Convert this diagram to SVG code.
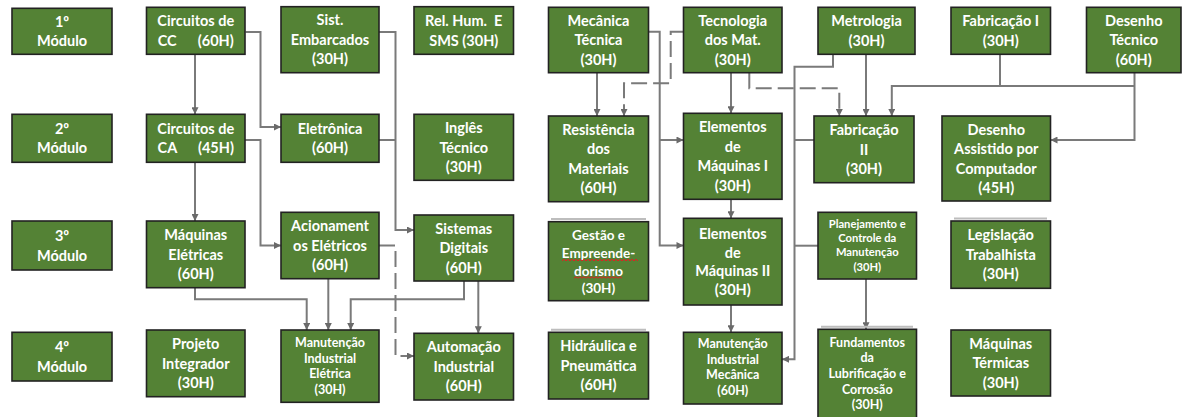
<svg xmlns="http://www.w3.org/2000/svg" width="1183" height="417" viewBox="0 0 1183 417">
<style>
.b{fill:#548235;stroke:#222;stroke-width:1.6}
.sh{stroke:#bdbdbd;stroke-width:2;fill:none}
text{font-family:Lato,"Liberation Sans",sans-serif;font-weight:700;fill:#fff;text-anchor:middle;font-size:14.5px}
.s{font-size:12.5px}
.g{font-size:13.5px}
.t{font-size:11.2px}
.c path{fill:none;stroke:#7a7a7a;stroke-width:2}
.c .d{stroke-dasharray:16 6}
.w{fill:none;stroke:#e02020;stroke-width:1}
</style>
<defs>
<marker id="a" viewBox="0 0 10 10" refX="10" refY="5" markerUnits="userSpaceOnUse" markerWidth="8" markerHeight="7" orient="auto"><path d="M0,0L10,5L0,10z" fill="#6a6a6a"/></marker>
</defs>
<rect width="1183" height="417" fill="#fff"/>
<g class="c" id="connectors">
<path d="M195 54.3V114.3" marker-end="url(#a)"/>
<path d="M245.5 32H260.5V127H281" marker-end="url(#a)"/>
<path d="M379 32H395.5V230H414" marker-end="url(#a)"/>
<path d="M379 140H395.5"/>
<path d="M195 162.3V221" marker-end="url(#a)"/>
<path d="M245 140H260.5V245.5H281" marker-end="url(#a)"/>
<path d="M195 287.7V299.3H306.7V330" marker-end="url(#a)"/>
<path d="M328.3 278.7V330" marker-end="url(#a)"/>
<path d="M464 281V299.3H350.7V330" marker-end="url(#a)"/>
<path d="M478.3 281V333.3" marker-end="url(#a)"/>
<path class="d" d="M379 245.5H395.5V356H414" marker-end="url(#a)"/>
<path d="M597 72.7V116" marker-end="url(#a)"/>
<path class="d" d="M683.5 31.7H670.7V83.3H624V116" marker-end="url(#a)"/>
<path d="M648.5 31.7H659.7V245.5H683.5" marker-end="url(#a)"/>
<path d="M659.7 140H683.5" marker-end="url(#a)"/>
<path d="M731 72.7V113.3" marker-end="url(#a)"/>
<path class="d" d="M749.3 72.7V88.3H839.3V116" marker-end="url(#a)"/>
<path d="M866 54.3V116" marker-end="url(#a)"/>
<path d="M833 54.3V66.7H794.5V359.3H782" marker-end="url(#a)"/>
<path d="M814 140H794.5"/>
<path d="M818 245.7H794.5"/>
<path d="M1000 54.3V86"/>
<path d="M1134.5 72.7V140H1050.5" marker-end="url(#a)"/>
<path d="M1134.5 86H891.8V116" marker-end="url(#a)"/>
<path d="M731 199.3V218.3" marker-end="url(#a)"/>
<path d="M731 305V332.3" marker-end="url(#a)"/>
<path d="M866 279V329.3" marker-end="url(#a)"/>
</g>
<g id="m1"><rect class="b" x="12" y="8.3" width="100" height="46"/><text x="62" y="26.7">1º</text><text x="62" y="46.2">Módulo</text></g>
<g id="cc"><rect class="b" x="146.5" y="7.3" width="98.5" height="47"/><text x="195.75" y="26.2">Circuitos de</text><text x="195.75" y="45.7" xml:space="preserve">CC      (60H)</text></g>
<g id="se"><rect class="b" x="281" y="6.7" width="98" height="66"/><text x="330" y="25.4">Sist.</text><text x="330" y="44.9">Embarcados</text><text x="330" y="64.4">(30H)</text></g>
<g id="rh"><rect class="b" x="414" y="6.7" width="99.5" height="47.6"/><text x="463.75" y="26" xml:space="preserve">Rel. Hum.  E</text><text x="463.75" y="45.5">SMS (30H)</text></g>
<g id="m2"><rect class="b" x="12" y="114.3" width="100" height="48"/><text x="62" y="133.7">2º</text><text x="62" y="153.2">Módulo</text></g>
<g id="ca"><rect class="b" x="146.5" y="114.3" width="98.5" height="48"/><text x="195.75" y="133.7">Circuitos de</text><text x="195.75" y="153.2" xml:space="preserve">CA      (45H)</text></g>
<g id="el"><rect class="b" x="281" y="114.3" width="98" height="48"/><text x="330" y="133.7">Eletrônica</text><text x="330" y="153.2">(60H)</text></g>
<g id="ing"><rect class="b" x="414" y="114.3" width="99.5" height="66"/><text x="463.75" y="133">Inglês</text><text x="463.75" y="152.5">Técnico</text><text x="463.75" y="172">(30H)</text></g>
<g id="m3"><rect class="b" x="12" y="221" width="100" height="49"/><text x="62" y="241">3º</text><text x="62" y="260.5">Módulo</text></g>
<g id="me"><rect class="b" x="146.5" y="221" width="98.5" height="66.7"/><text x="195.75" y="240">Máquinas</text><text x="195.75" y="259.5">Elétricas</text><text x="195.75" y="279">(60H)</text></g>
<g id="ac"><rect class="b" x="281" y="212.3" width="98" height="66.4"/><text x="330" y="231.2">Acionament</text><text x="330" y="250.7">os Elétricos</text><text x="330" y="270.2">(60H)</text></g>
<g id="sd"><rect class="b" x="414" y="215" width="99.5" height="66"/><text x="463.75" y="233.7">Sistemas</text><text x="463.75" y="253.2">Digitais</text><text x="463.75" y="272.7">(60H)</text></g>
<g id="m4"><rect class="b" x="12" y="332.3" width="100" height="48.7"/><text x="62" y="352.1">4º</text><text x="62" y="371.6">Módulo</text></g>
<g id="pi"><rect class="b" x="146.5" y="330" width="98.5" height="66.7"/><text x="195.75" y="349">Projeto</text><text x="195.75" y="368.5">Integrador</text><text x="195.75" y="388">(30H)</text></g>
<g id="mie"><rect class="b" x="281" y="330" width="98" height="72.3"/><text class="s" x="330" y="346.6">Manutenção</text><text class="s" x="330" y="362.5">Industrial</text><text class="s" x="330" y="378.4">Elétrica</text><text class="s" x="330" y="394.3">(30H)</text></g>
<g id="ai"><rect class="b" x="414" y="333.3" width="99.5" height="66.7"/><text x="463.75" y="352.4">Automação</text><text x="463.75" y="371.9">Industrial</text><text x="463.75" y="391.4">(60H)</text></g>
<g id="mt"><rect class="b" x="548.5" y="7.3" width="100" height="65.4"/><text x="598.5" y="25.7">Mecânica</text><text x="598.5" y="45.2">Técnica</text><text x="598.5" y="64.7">(30H)</text></g>
<g id="tm"><rect class="b" x="683.5" y="7.3" width="98.5" height="65.4"/><text x="732.75" y="25.7">Tecnologia</text><text x="732.75" y="45.2">dos Mat.</text><text x="732.75" y="64.7">(30H)</text></g>
<g id="mtr"><rect class="b" x="818" y="7.3" width="97" height="47"/><text x="866.5" y="26.2">Metrologia</text><text x="866.5" y="45.7">(30H)</text></g>
<g id="f1"><rect class="b" x="951" y="7.3" width="99.5" height="47"/><text x="1000.75" y="26.2">Fabricação I</text><text x="1000.75" y="45.7">(30H)</text></g>
<g id="dt"><rect class="b" x="1086.5" y="7.3" width="94.5" height="65.4"/><text x="1133.75" y="25.7">Desenho</text><text x="1133.75" y="45.2">Técnico</text><text x="1133.75" y="64.7">(60H)</text></g>
<g id="rm"><rect class="b" x="548.5" y="116" width="100" height="85.7"/><text x="598.5" y="134.8">Resistência</text><text x="598.5" y="154.3">dos</text><text x="598.5" y="173.8">Materiais</text><text x="598.5" y="193.3">(60H)</text></g>
<g id="em1"><rect class="b" x="683.5" y="113.3" width="98.5" height="86"/><text x="732.75" y="132.2">Elementos</text><text x="732.75" y="151.7">de</text><text x="732.75" y="171.2">Máquinas I</text><text x="732.75" y="190.7">(30H)</text></g>
<g id="f2"><rect class="b" x="814" y="116" width="100" height="66.7"/><text x="864" y="135">Fabricação</text><text x="864" y="154.5">II</text><text x="864" y="174">(30H)</text></g>
<g id="dac"><rect class="b" x="942" y="116" width="108.5" height="85"/><text x="996.25" y="134.5">Desenho</text><text x="996.25" y="154">Assistido por</text><text x="996.25" y="173.5">Computador</text><text x="996.25" y="193">(45H)</text></g>
<g id="ge"><path class="sh" d="M551 219H646"/><rect class="b" x="548.5" y="221.7" width="100" height="79"/><text class="g" x="598.5" y="239.8">Gestão e</text><text class="g" x="598.5" y="258.1">Empreende-</text><text class="g" x="598.5" y="275.5">dorismo</text><text class="g" x="598.5" y="293.1">(30H)</text><path class="w" d="M562 260.8l2-1.5 2 1.5 2-1.5 2 1.5 2-1.5 2 1.5 2-1.5 2 1.5 2-1.5 2 1.5 2-1.5 2 1.5 2-1.5 2 1.5 2-1.5 2 1.5 2-1.5 2 1.5 2-1.5 2 1.5 2-1.5 2 1.5 2-1.5 2 1.5 2-1.5 2 1.5 2-1.5 2 1.5 2-1.5 2 1.5 2-1.5 2 1.5 2-1.5 2 1.5 2-1.5 2 1.5 2-1.5 2 1.5"/><path class="w" d="M574 278.2l2-1.5 2 1.5 2-1.5 2 1.5 2-1.5 2 1.5 2-1.5 2 1.5 2-1.5 2 1.5 2-1.5 2 1.5 2-1.5 2 1.5 2-1.5 2 1.5 2-1.5 2 1.5 2-1.5 2 1.5 2-1.5 2 1.5 2-1.5 2 1.5"/></g>
<g id="em2"><rect class="b" x="683.5" y="218.3" width="98.5" height="86.7"/><text x="732.75" y="238.8">Elementos</text><text x="732.75" y="257.5">de</text><text x="732.75" y="276.2">Máquinas II</text><text x="732.75" y="294.9">(30H)</text></g>
<g id="pc"><rect class="b" x="818" y="212.3" width="98.5" height="66.7"/><text class="t" x="867.25" y="228">Planejamento e</text><text class="t" x="867.25" y="242.3">Controle da</text><text class="t" x="867.25" y="256.3">Manutenção</text><text class="t" x="867.25" y="270.7">(30H)</text></g>
<g id="lt"><path class="sh" d="M954 218.5H1047"/><rect class="b" x="951" y="221" width="99.5" height="67.3"/><text x="1000.75" y="240.4">Legislação</text><text x="1000.75" y="259.9">Trabalhista</text><text x="1000.75" y="279.4">(30H)</text></g>
<g id="hp"><path class="sh" d="M551 329.8H646"/><rect class="b" x="548.5" y="332.3" width="100" height="66.7"/><text x="598.5" y="351.4">Hidráulica e</text><text x="598.5" y="370.9">Pneumática</text><text x="598.5" y="390.4">(60H)</text></g>
<g id="mm"><rect class="b" x="683.5" y="332.3" width="98.5" height="71.7"/><text class="s" x="732.75" y="347.8">Manutenção</text><text class="s" x="732.75" y="363.8">Industrial</text><text class="s" x="732.75" y="378.8">Mecânica</text><text class="s" x="732.75" y="395.2">(60H)</text></g>
<g id="fl"><path class="sh" d="M821 326.8H913"/><rect class="b" x="818" y="329.3" width="98.5" height="92"/><text class="s" x="867.25" y="346.8">Fundamentos</text><text class="s" x="867.25" y="362.2">da</text><text class="s" x="867.25" y="377.8">Lubrificação e</text><text class="s" x="867.25" y="393.5">Corrosão</text><text class="s" x="867.25" y="409.2">(30H)</text></g>
<g id="mq"><rect class="b" x="951" y="330" width="99.5" height="66"/><text x="1000.75" y="348.7">Máquinas</text><text x="1000.75" y="368.2">Térmicas</text><text x="1000.75" y="387.7">(30H)</text></g>
</svg>
